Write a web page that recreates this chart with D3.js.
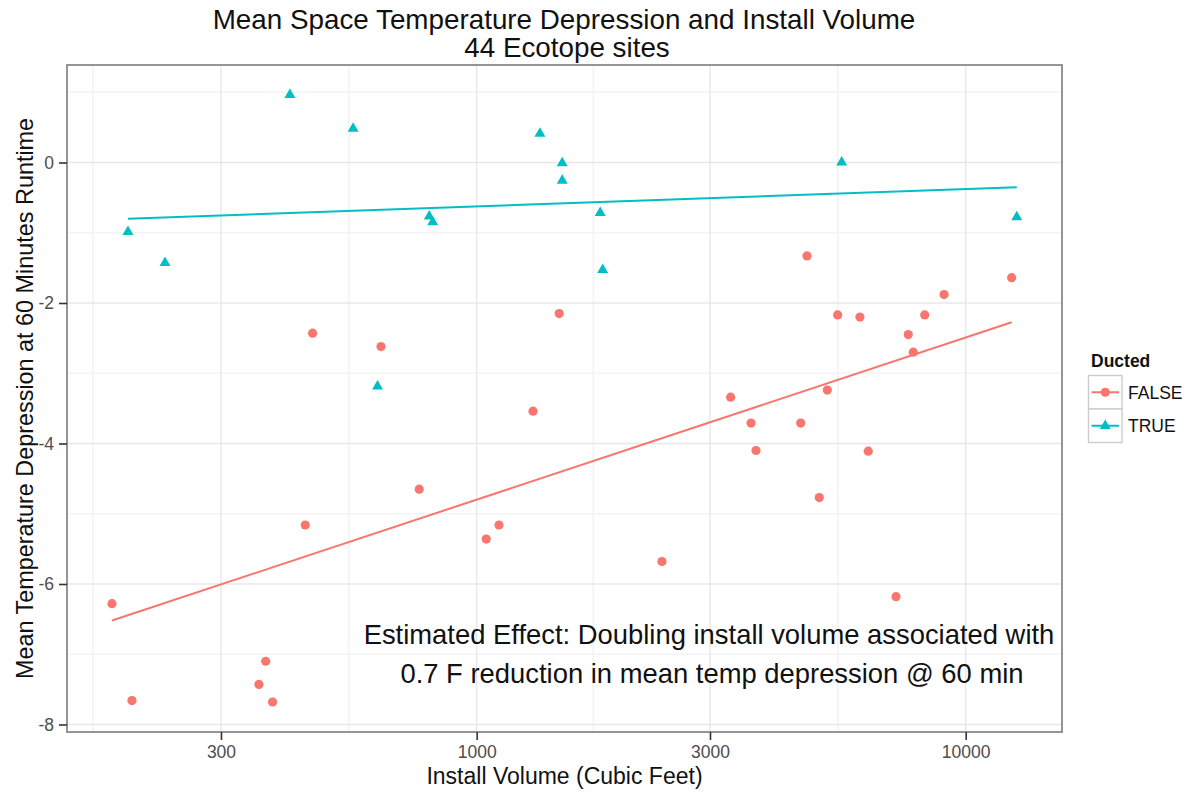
<!DOCTYPE html>
<html>
<head>
<meta charset="utf-8">
<script src="https://cdn.jsdelivr.net/npm/d3@7"></script>
<style>
  html, body { margin: 0; padding: 0; background: #ffffff; }
  text { font-family: "Liberation Sans", Arial, Helvetica, sans-serif; }
</style>
</head>
<body>
<svg id="chart" width="1190" height="793"></svg>
<script>
// ---------------- data ----------------
const titleLines = ["Mean Space Temperature Depression and Install Volume", "44 Ecotope sites"];
const xLabel = "Install Volume (Cubic Feet)";
const yLabel = "Mean Temperature Depression at 60 Minutes Runtime";
const annotationLines = ["Estimated Effect: Doubling install volume associated with",
                         "0.7 F reduction in mean temp depression @ 60 min"];
const legendTitle = "Ducted";
const groups = ["FALSE", "TRUE"];

const xTicks = [300, 1000, 3000, 10000];
const yTicks = [-8, -6, -4, -2, 0];

// Ducted = FALSE
const volFalse = [179.6, 197.3, 358.7, 370.3, 382.5, 446.2, 461.9, 637.4, 763, 1046,
                  1111, 1304, 1475, 2393, 3306, 3639, 3726, 4598, 4737, 5019,
                  5212, 5472, 6077, 6320, 7203, 7630, 7813, 8245, 9032, 12417];
const depFalse = [-6.28, -7.66, -7.43, -7.10, -7.68, -5.16, -2.43, -2.62, -4.65, -5.36,
                  -5.16, -3.54, -2.15, -5.68, -3.34, -3.71, -4.10, -3.71, -1.33, -4.77,
                  -3.24, -2.17, -2.20, -4.11, -6.18, -2.45, -2.70, -2.17, -1.88, -1.64];
// Ducted = TRUE
const volTrue = [193.6, 230.5, 415, 559, 627, 800, 813, 1347, 1496, 1496, 1789, 1810, 5577, 12718];
const depTrue = [-0.98, -1.42, 0.97, 0.49, -3.18, -0.76, -0.84, 0.42, 0.00, -0.25, -0.71, -1.52, 0.01, -0.77];

// fitted (lm) line values at the ends of each group's volume range
const fitFalse = [-6.52, -2.275];
const fitTrue = [-0.80, -0.353];

const colors = { FALSE: "#F8766D", TRUE: "#00BFC4" };

// ---------------- layout ----------------
const svg = d3.select("#chart");
const P = { left: 67, right: 1062, top: 65, bottom: 732 };

const x = d3.scaleLog().domain([145.3, 15738]).range([P.left, P.right]);
const y = d3.scaleLinear().domain([-8.107, 1.388]).range([P.bottom, P.top]);

// panel background
svg.append("rect").attr("x", P.left).attr("y", P.top)
  .attr("width", P.right - P.left).attr("height", P.bottom - P.top)
  .attr("fill", "#ffffff");

// minor grid (midpoints in transformed space)
const lt = xTicks.map(v => Math.log10(v));
const xMinor = [];
xMinor.push(lt[0] - (lt[1] - lt[0]) / 2);
for (let i = 0; i < lt.length - 1; i++) xMinor.push((lt[i] + lt[i + 1]) / 2);
xMinor.push(lt[lt.length - 1] + (lt[lt.length - 1] - lt[lt.length - 2]) / 2);
const yMinor = [];
for (let i = 0; i < yTicks.length - 1; i++) yMinor.push((yTicks[i] + yTicks[i + 1]) / 2);
yMinor.push(yTicks[yTicks.length - 1] + 1);

const grid = svg.append("g");
grid.selectAll(".xmin").data(xMinor.map(v => Math.pow(10, v)).filter(v => x(v) > P.left && x(v) < P.right))
  .join("line").attr("x1", d => x(d)).attr("x2", d => x(d))
  .attr("y1", P.top).attr("y2", P.bottom).attr("stroke", "#f3f3f3").attr("stroke-width", 1.6);
grid.selectAll(".ymin").data(yMinor.filter(v => y(v) > P.top && y(v) < P.bottom))
  .join("line").attr("x1", P.left).attr("x2", P.right)
  .attr("y1", d => y(d)).attr("y2", d => y(d)).attr("stroke", "#f3f3f3").attr("stroke-width", 1.6);
grid.selectAll(".xmaj").data(xTicks).join("line")
  .attr("x1", d => x(d)).attr("x2", d => x(d))
  .attr("y1", P.top).attr("y2", P.bottom).attr("stroke", "#e8e8e8").attr("stroke-width", 1.4);
grid.selectAll(".ymaj").data(yTicks).join("line")
  .attr("x1", P.left).attr("x2", P.right)
  .attr("y1", d => y(d)).attr("y2", d => y(d)).attr("stroke", "#e8e8e8").attr("stroke-width", 1.4);

// fit lines
function fitLine(vols, fit) {
  const ext = d3.extent(vols);
  return [[ext[0], fit[0]], [ext[1], fit[1]]];
}
const line = d3.line().x(d => x(d[0])).y(d => y(d[1]));
svg.append("path").attr("d", line(fitLine(volFalse, fitFalse)))
  .attr("stroke", colors.FALSE).attr("stroke-width", 2).attr("fill", "none");
svg.append("path").attr("d", line(fitLine(volTrue, fitTrue)))
  .attr("stroke", colors.TRUE).attr("stroke-width", 2).attr("fill", "none");

// points
const ptsFalse = volFalse.map((v, i) => [v, depFalse[i]]);
const ptsTrue = volTrue.map((v, i) => [v, depTrue[i]]);
svg.append("g").selectAll("circle").data(ptsFalse).join("circle")
  .attr("cx", d => x(d[0])).attr("cy", d => y(d[1])).attr("r", 4.6)
  .attr("fill", colors.FALSE);
const tri = d3.symbol().type(d3.symbolTriangle).size(52);
svg.append("g").selectAll("path").data(ptsTrue).join("path")
  .attr("d", tri).attr("transform", d => `translate(${x(d[0])},${y(d[1]) + 0.5})`)
  .attr("fill", colors.TRUE);

// annotation
const ann = svg.append("text").attr("font-size", 27.4).attr("fill", "#111")
  .attr("text-anchor", "middle");
ann.append("tspan").attr("x", 709).attr("y", 644).text(annotationLines[0]);
ann.append("tspan").attr("x", 712).attr("y", 683).text(annotationLines[1]);

// panel border
svg.append("rect").attr("x", P.left).attr("y", P.top)
  .attr("width", P.right - P.left).attr("height", P.bottom - P.top)
  .attr("fill", "none").attr("stroke", "#8a8a8a").attr("stroke-width", 1.8);

// axes
const fmt = d => String(d); // plain hyphen-minus, as in the original
const xAxis = d3.axisBottom(x).tickValues(xTicks).tickFormat(fmt)
  .tickSizeInner(8).tickSizeOuter(0).tickPadding(6);
const gx = svg.append("g").attr("transform", `translate(0,${P.bottom})`).call(xAxis);
gx.select(".domain").remove();
gx.selectAll(".tick line").attr("stroke", "#333").attr("stroke-width", 1.6);
gx.selectAll(".tick text").attr("font-size", 17.5).attr("fill", "#4d4d4d")
  .attr("font-family", "Liberation Sans, Arial, sans-serif");

const yAxis = d3.axisLeft(y).tickValues(yTicks).tickFormat(fmt)
  .tickSizeInner(8).tickSizeOuter(0).tickPadding(5);
const gy = svg.append("g").attr("transform", `translate(${P.left},0)`).call(yAxis);
gy.select(".domain").remove();
gy.selectAll(".tick line").attr("stroke", "#333").attr("stroke-width", 1.6);
gy.selectAll(".tick text").attr("font-size", 17.5).attr("fill", "#4d4d4d")
  .attr("font-family", "Liberation Sans, Arial, sans-serif");

// axis titles
svg.append("text").attr("x", (P.left + P.right) / 2).attr("y", 784)
  .attr("text-anchor", "middle").attr("font-size", 23).attr("fill", "#111").text(xLabel);
svg.append("text").attr("transform", `translate(33,${(P.top + P.bottom) / 2}) rotate(-90)`)
  .attr("text-anchor", "middle").attr("font-size", 23.4).attr("fill", "#111").text(yLabel);

// title
const t = svg.append("text").attr("text-anchor", "middle").attr("font-size", 27.8).attr("fill", "#111");
t.append("tspan").attr("x", 564).attr("y", 28.5).text(titleLines[0]);
t.append("tspan").attr("x", 567).attr("y", 56.5).text(titleLines[1]);

// legend
const lg = svg.append("g");
lg.append("text").attr("x", 1091).attr("y", 367).attr("font-size", 17.5)
  .attr("font-weight", "bold").attr("fill", "#111").text(legendTitle);
const keyX = 1088.5, keyW = 33.5, keyH = 33.5, keyY0 = 375.5;
groups.forEach((g, i) => {
  const ky = keyY0 + i * keyH;
  lg.append("rect").attr("x", keyX).attr("y", ky).attr("width", keyW).attr("height", keyH)
    .attr("fill", "#ffffff").attr("stroke", "#cccccc").attr("stroke-width", 1.4);
  lg.append("line").attr("x1", keyX + 3).attr("x2", keyX + keyW - 3)
    .attr("y1", ky + keyH / 2).attr("y2", ky + keyH / 2)
    .attr("stroke", colors[g]).attr("stroke-width", 2);
  if (g === "FALSE") {
    lg.append("circle").attr("cx", keyX + keyW / 2).attr("cy", ky + keyH / 2).attr("r", 4.6)
      .attr("fill", colors[g]);
  } else {
    lg.append("path").attr("d", tri)
      .attr("transform", `translate(${keyX + keyW / 2},${ky + keyH / 2})`).attr("fill", colors[g]);
  }
  lg.append("text").attr("x", 1128).attr("y", ky + keyH / 2 + 6.5).attr("font-size", 17.5)
    .attr("fill", "#111").text(g);
});
</script>
</body>
</html>
